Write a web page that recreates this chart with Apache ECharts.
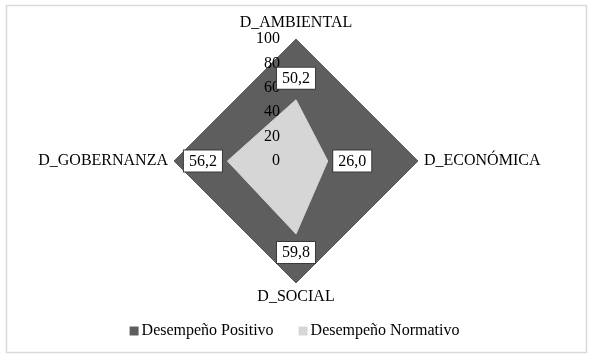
<!DOCTYPE html>
<html><head><meta charset="utf-8">
<script src="https://cdn.jsdelivr.net/npm/echarts@6/dist/echarts.min.js"></script>
<style>html,body{margin:0;padding:0;background:#fff}#c{width:589px;height:355px}</style>
</head><body><div id="c"></div>
<script>
// ECharts radar places indicators counter-clockwise from the top
const indicators = ['D_AMBIENTAL', 'D_GOBERNANZA', 'D_SOCIAL', 'D_ECONÓMICA'];
const positivo = [100, 100, 100, 100];
const normativo = [50.2, 56.2, 59.8, 26.0];
const seriesNames = ['Desempeño Positivo', 'Desempeño Normativo'];
const maxValue = 100;

const FONT = 'Liberation Serif';
const labelPos = ['top', 'left', 'bottom', 'right'];
const labelDist = [13, 5, 10, 5];
const fmt = v => v.toFixed(1).replace('.', ',');

const chart = echarts.init(document.getElementById('c'), null, {renderer: 'canvas'});
chart.setOption({
  animation: false,
  backgroundColor: '#fff',
  graphic: [{
    type: 'rect', left: 4, top: 3, z: -1,
    shape: {width: 580, height: 347},
    style: {fill: 'none', stroke: '#d9d9d9', lineWidth: 1.5}
  }],
  legend: {
    data: seriesNames,
    top: 318, left: 'center',
    icon: 'rect', itemWidth: 9, itemHeight: 9, itemGap: 25,
    textStyle: {fontFamily: FONT, fontSize: 16, color: '#000', padding: [0, 0, 0, -2]}
  },
  radar: {
    z: 5,
    center: [296, 161],
    radius: 122,
    shape: 'polygon',
    splitNumber: 5,
    indicator: indicators.map((n, i) => ({
      name: n, min: 0, max: maxValue,
      axisLabel: {show: i === 0}
    })),
    axisName: {color: '#000', fontFamily: FONT, fontSize: 16},
    nameGap: 6,
    splitLine: {show: false},
    splitArea: {show: false},
    axisLine: {show: false},
    axisTick: {show: false},
    axisLabel: {show: true, color: '#000', fontFamily: FONT, fontSize: 16, margin: 16}
  },
  series: [{
    type: 'radar',
    silent: true,
    symbol: 'none',
    z: 2,
    data: [
      {name: seriesNames[0], value: positivo,
       itemStyle: {color: '#5e5e5e'}, lineStyle: {color: '#5e5e5e', width: 1},
       areaStyle: {color: '#5e5e5e', opacity: 1}},
      {name: seriesNames[1], value: normativo,
       itemStyle: {color: '#d6d6d6'}, lineStyle: {color: '#d6d6d6', width: 1},
       areaStyle: {color: '#d6d6d6', opacity: 1}}
    ]
  }, {
    type: 'radar',
    silent: true,
    symbol: 'circle',
    symbolSize: 1,
    z: 8,
    itemStyle: {color: 'rgba(0,0,0,0)'},
    lineStyle: {width: 0, opacity: 0},
    data: normativo.map((_, k) => ({
      value: normativo,
      label: {
        show: true,
        position: labelPos[k],
        distance: labelDist[k],
        formatter: p => (p.value === normativo[p.dataIndex] ? '{b|' + fmt(p.value) + '}' : ''),
        rich: {
          b: {
            fontFamily: FONT, fontSize: 16, color: '#000', lineHeight: 16,
            backgroundColor: '#fff', borderColor: '#3a3a3a', borderWidth: 1,
            padding: [3, 5, 2, 5]
          }
        }
      }
    }))
  }]
});
</script></body></html>
